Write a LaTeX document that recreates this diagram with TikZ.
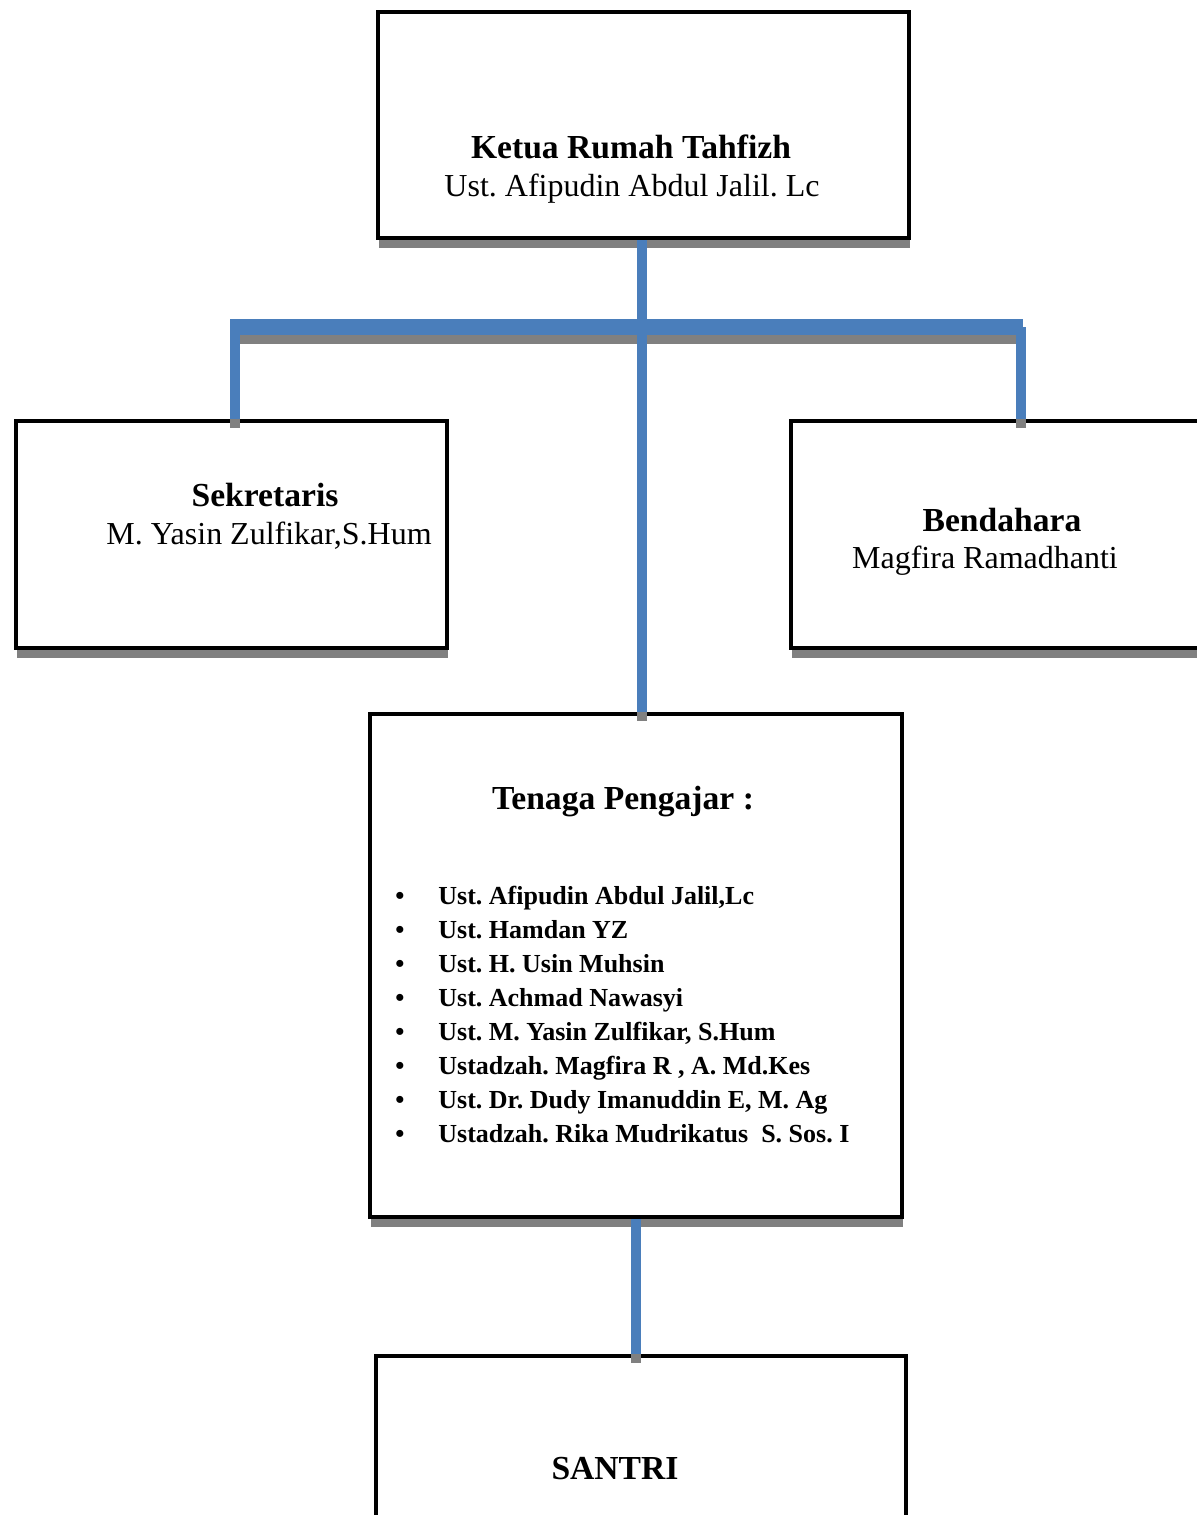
\documentclass[tikz,border=0pt]{standalone}
\usepackage{fontspec}
\setmainfont{Liberation Serif}
\usetikzlibrary{shadows}
\definecolor{linkblue}{HTML}{4A7EBB}
\definecolor{shade}{HTML}{808080}
\frenchspacing
\begin{document}
\begin{tikzpicture}[x=0.5pt,y=-0.5pt,
  orgbox/.style={draw=black, line width=2pt, fill=white, inner sep=0pt, anchor=north west,
    general shadow={fill=shade, shadow xshift=0.5pt, shadow yshift=-5pt}},
  conn/.style={draw=linkblue, line width=5pt},
  bar/.style={draw=linkblue, line width=8pt},
  connshade/.style={draw=shade, line width=5pt},
  barshade/.style={draw=shade, line width=8pt},
  title/.style={font=\fontsize{16.8}{20}\selectfont\bfseries, anchor=base, inner sep=0pt},
  person/.style={font=\fontsize{16}{19}\selectfont, anchor=base, inner sep=0pt},
  listitem/.style={font=\fontsize{13}{17}\selectfont\bfseries, anchor=base west, inner sep=0pt}]
\useasboundingbox (0,0) rectangle (1197,1515);
\fill[white] (0,0) rectangle (1197,1515);

% boxes
\node[orgbox, minimum width=265.5pt, minimum height=113pt] (ketua) at (376,10) {};
\node[orgbox, minimum width=215.5pt, minimum height=113.5pt] (sek) at (14,419) {};
\node[orgbox, minimum width=218pt, minimum height=113.5pt] (bend) at (789,419) {};
\node[orgbox, minimum width=266pt, minimum height=251.5pt] (tenaga) at (368,712) {};
\node[orgbox, minimum width=265pt, minimum height=93pt] (santri) at (374,1354) {};

% junction coordinates
\coordinate (jc) at (642,327);
\coordinate (jl) at (235,327);
\coordinate (jr) at (1021,327);
\coordinate (barl) at (230,327);
\coordinate (barr) at (1023,327);

% connector shadows
\begin{scope}[transform canvas={yshift=-4.5pt}]
  \draw[connshade] (ketua.south -| jc) -- (jc |- tenaga.north);
  \draw[barshade] (barl) -- (barr);
  \draw[connshade] (jl) -- (jl |- sek.north);
  \draw[connshade] (jr) -- (jr |- bend.north);
  \draw[connshade] (tenaga.south) -- (tenaga.south |- santri.north);
\end{scope}
% connectors
\draw[conn] (ketua.south -| jc) -- (jc |- tenaga.north);
\draw[bar] (barl) -- (barr);
\draw[conn] (jl) -- (jl |- sek.north);
\draw[conn] (jr) -- (jr |- bend.north);
\draw[conn] (tenaga.south) -- (tenaga.south |- santri.north);

% texts
\node[title] (ketuaT) at (631,158) {Ketua Rumah Tahfizh};
\node[person] (ketuaN) at (632,196) {Ust. Afipudin Abdul Jalil. Lc};
\node[title] (sekT) at (265,506) {Sekretaris};
\node[person] (sekN) at (269,544) {M. Yasin Zulfikar,S.Hum};
\node[title] (bendT) at (1002,531) {Bendahara};
\node[person] (bendN) at (985,568) {Magfira Ramadhanti};
\node[title] (tenagaT) at (623,809) {Tenaga Pengajar :};
\foreach \t [count=\i] in {{Ust. Afipudin Abdul Jalil,Lc},{Ust. Hamdan YZ},{Ust. H. Usin Muhsin},{Ust. Achmad Nawasyi},{Ust. M. Yasin Zulfikar, S.Hum},{Ustadzah. Magfira R , A. Md.Kes},{Ust. Dr. Dudy Imanuddin E, M. Ag},{Ustadzah. Rika Mudrikatus\ \ S. Sos. I}}
  \node[listitem] (item\i) at (395,{904+34*(\i-1)}) {\makebox[21.5pt][l]{\textbullet}\t};
\node[title] (santriT) at (615,1479) {SANTRI};
\end{tikzpicture}
\end{document}
